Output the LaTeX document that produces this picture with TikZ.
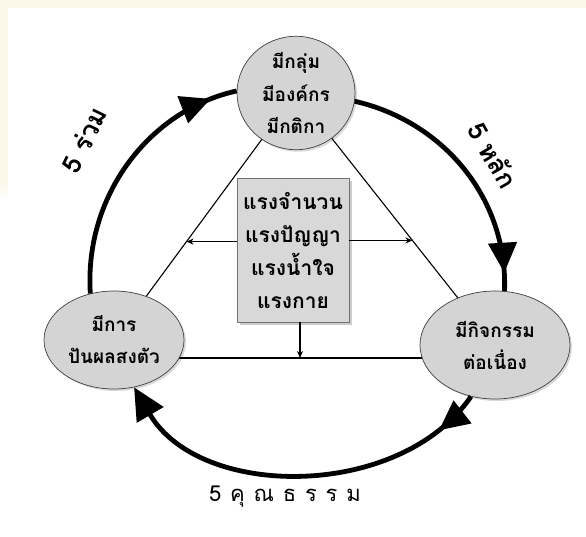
\documentclass[tikz,border=0pt]{standalone}
\usepackage{fontspec}
\newfontfamily\thai[Script=Thai]{Loma}
\usetikzlibrary{arrows.meta,decorations.markings,calc,shapes.geometric,shadows}
\definecolor{cream}{RGB}{250,247,233}
\definecolor{bubblefill}{RGB}{212,212,212}
\definecolor{boxfill}{RGB}{216,216,216}
\tikzset{bighead/.tip={Triangle[length=30pt,width=28pt]}}
\begin{document}
\begin{tikzpicture}[x=1pt,y=-1pt,
  bubble/.style={ellipse, draw=black!75, line width=0.7pt, fill=bubblefill, inner sep=0pt, align=center,
     font=\thai\bfseries\fontsize{19}{32}\selectfont,
     drop shadow={shadow xshift=2pt, shadow yshift=-2pt, fill=black, opacity=0.15}},
  centerbox/.style={rectangle, draw=black!55, line width=0.8pt, fill=boxfill, inner sep=0pt, align=center,
     font=\thai\bfseries\fontsize{21}{33}\selectfont,
     drop shadow={shadow xshift=3pt, shadow yshift=-3pt, fill=black, opacity=0.2}},
  link/.style={line width=1.1pt, draw=black},
  smallarrow/.style={line width=1.3pt, -{Stealth[length=7pt,width=6pt]}},
  bigarc/.style={line width=4.8pt, draw=black},
  arclabel/.style={font=\thai\bfseries\fontsize{26}{26}\selectfont}]
\useasboundingbox (0,0) rectangle (586,537);
\fill[white] (0,0) rectangle (586,537);
\fill[cream] (0,0) rectangle (586,8);
\fill[cream] (0,0) rectangle (8,180);
\shade[top color=cream, bottom color=white] (0,180) rectangle (8,200);

% positions of the nodes
\coordinate (ptop) at (296,93);
\coordinate (pleft) at (114,340);
\coordinate (pright) at (495,345);
\coordinate (hline) at (300,358);

% triangle links, drawn first so the bubbles cover their ends
\draw[link] (ptop) -- (pleft);
\draw[link] (ptop) -- (pright);
\draw[link] (pleft |- hline) -- (pright |- hline);

\node[bubble, minimum width=118pt, minimum height=98pt] (top) at (ptop) {มีกลุ่ม\\มีองค์กร\\มีกติกา};
\node[bubble, minimum width=140pt, minimum height=98pt] (left) at (pleft) {มีการ\\ปันผลสงตัว};
\node[bubble, minimum width=150pt, minimum height=108pt] (right) at (pright) {มีกิจกรรม\\ต่อเนื่อง};

\node[centerbox, minimum width=112pt, minimum height=144pt] (box) at (293,250) {แรงจำนวน\\แรงปัญญา\\แรงน้ำใจ\\แรงกาย};

\coordinate (la) at ($(ptop)!0.6016!(pleft)$);
\coordinate (ra) at ($(ptop)!0.585!(pright)$);
\draw[smallarrow] (box.west |- la) -- (la);
\draw[smallarrow] (box.east |- ra) -- (ra);
\draw[smallarrow] (box.south -| hline) -- (hline);

% thick cycle arcs
\draw[bigarc, postaction={decorate}, decoration={markings, mark=at position 0.9 with {\arrow{bighead}}}]
  (left.117) .. controls (84,195) and (150,110) .. (top.178);
\draw[bigarc, postaction={decorate}, decoration={markings, mark=at position 0.93 with {\arrow{bighead}}}]
  (top.-8) .. controls (445,122) and (508,200) .. (right.80);
\draw[bigarc, -{Triangle[length=32pt,width=30pt]}, postaction={decorate}, decoration={markings, mark=at position 0.12 with {\arrow{bighead}}}]
  (right.245) .. controls (400,500) and (200,500) .. (left.293);

\node[arclabel, rotate=64] (lbl1) at (84,140) {5 ร่วม};
\node[arclabel, rotate=-60] (lbl2) at (493,155) {5 หลัก};
\node[font=\thai\fontsize{22}{22}\selectfont\addfontfeatures{LetterSpace=40}] (lbl3) at (285,497) {5คุณธรรม};
\end{tikzpicture}
\end{document}
